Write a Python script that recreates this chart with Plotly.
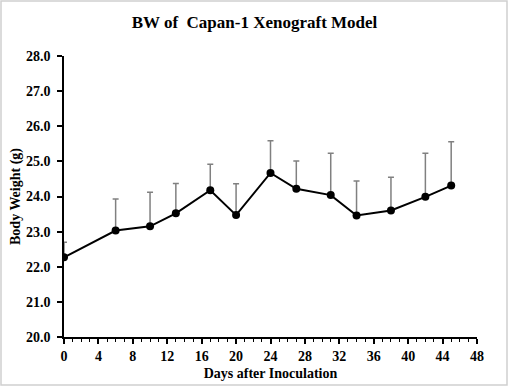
import plotly.graph_objects as go

days = [0, 6, 10, 13, 17, 20, 24, 27, 31, 34, 38, 42, 45]
bw_mean = [22.27, 23.03, 23.15, 23.52, 24.18, 23.47, 24.67, 24.22, 24.04, 23.46, 23.60, 23.99, 24.31]
bw_upper = [22.70, 23.93, 24.12, 24.37, 24.92, 24.36, 25.59, 25.01, 25.23, 24.44, 24.55, 25.23, 25.56]

err_plus = [u - m for u, m in zip(bw_upper, bw_mean)]

SERIF = "Liberation Serif, Times New Roman, serif"

fig = go.Figure()
fig.add_trace(go.Scatter(
    x=days, y=bw_mean, mode="lines+markers",
    line=dict(color="black", width=2),
    marker=dict(color="black", size=8),
    error_y=dict(type="data", array=err_plus, arrayminus=[0] * len(days),
                 symmetric=False, color="#808080", thickness=1.5, width=3),
    showlegend=False,
    hoverinfo="skip",
))

axis_font = dict(family=SERIF, size=14, color="black")
fig.update_layout(
    width=509, height=387,
    margin=dict(l=64, r=32, t=56, b=50),
    paper_bgcolor="white", plot_bgcolor="white",
    font=dict(family=SERIF, color="black"),
    title=dict(text="<b>BW of  Capan-1 Xenograft Model</b>", x=0.5, xanchor="center",
               y=1 - 22 / 387, yanchor="middle",
               font=dict(family=SERIF, size=17, color="black")),
    xaxis=dict(range=[0, 48], tickmode="array", tickvals=list(range(0, 49, 4)),
               ticktext=["<b>%d</b>" % v for v in range(0, 49, 4)],
               automargin=False,
               showgrid=False, zeroline=False, showline=True, linecolor="black", linewidth=1.5,
               ticks="outside", ticklen=5, tickcolor="black", tickwidth=1.5,
               minor=dict(dtick=1, ticks="outside", ticklen=3, tickcolor="black", tickwidth=1.2),
               tickfont=axis_font,
               title=dict(text="<b>Days after Inoculation</b>", standoff=6,
                          font=dict(family=SERIF, size=14, color="black"))),
    yaxis=dict(range=[20, 28], tickmode="array", tickvals=list(range(20, 29)),
               ticktext=["<b>%.1f</b>" % v for v in range(20, 29)],
               automargin=False, ticklabelstandoff=4,
               showgrid=False, zeroline=False, showline=True, linecolor="black", linewidth=1.5,
               ticks="outside", ticklen=5, tickcolor="black", tickwidth=1.5,
               tickfont=axis_font,
               title=dict(text="<b>Body Weight (g)</b>", standoff=2,
                          font=dict(family=SERIF, size=14, color="black"))),
    shapes=[dict(type="rect", xref="paper", yref="paper",
                 x0=(1 - 64) / 413, x1=(507 - 64) / 413,
                 y0=(337 - 385) / 281, y1=(337 - 1) / 281,
                 line=dict(color="#d0d0d0", width=1.5), fillcolor="rgba(0,0,0,0)", layer="below")],
)

fig.write_html("out.html", config={"displayModeBar": False},
               post_script="document.body.style.margin='0';document.body.style.overflow='hidden';")
